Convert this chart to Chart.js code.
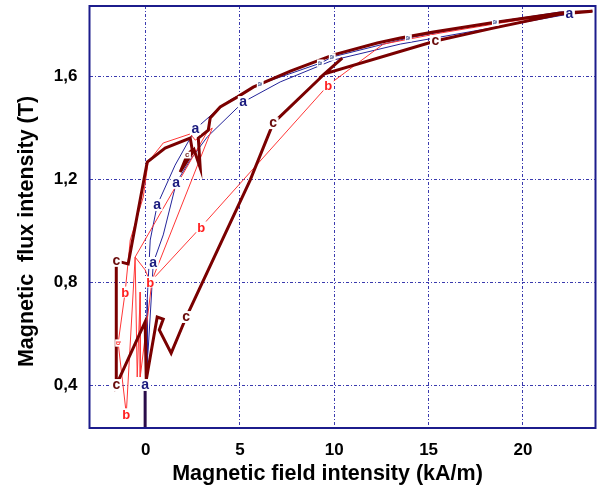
<!DOCTYPE html>
<html>
<head>
<meta charset="utf-8">
<script src="https://cdn.jsdelivr.net/npm/chart.js@4/dist/chart.umd.min.js"></script>
<style>
  html, body { margin: 0; padding: 0; background: #ffffff; }
  #wrap { width: 605px; height: 488px; }
</style>
</head>
<body>
<div id="wrap"><canvas id="chart" width="605" height="488"></canvas></div>
<script>
// Magnetization paths B(H) for three specimens a, b, c
// H in kA/m, B in T

const aField = [-0.03, -0.03, 0.13, 0.29, 0.40, 0.93, 1.62, 2.36, 3.26, 5.17, 7.13, 9.95, 13.50, 18.28, 22.47, 23.69,
                21.99, 18.54, 13.93, 9.89, 9.26, 6.07, 4.48, 3.53, 2.63, 1.56, 0.61, 0.24, 0.08, 0.08];
const aFlux  = [0.233, 0.400, 0.536, 0.730, 0.874, 0.983, 1.185, 1.274, 1.363, 1.499, 1.577, 1.662, 1.724, 1.786, 1.841, 1.852,
                1.849, 1.810, 1.748, 1.674, 1.650, 1.569, 1.507, 1.452, 1.394, 1.254, 1.099, 0.963, 0.730, 0.420];

const bField = [21.99, 18.81, 15.62, 12.60, 9.68, 2.94, 0.24, -0.03, -0.56, -0.45, -0.29, -0.29, 0.34, 3.53,
                2.63, 2.36, 0.93, 0.13, -0.13, -0.82, -1.09, -1.46, -1.03, -0.56, 3.26];
const bFlux  = [1.841, 1.806, 1.767, 1.724, 1.565, 1.014, 0.800, 0.847, 0.897, 0.431, 0.761, 0.431, 0.808, 1.398,
                1.351, 1.375, 1.340, 1.266, 1.130, 0.963, 0.761, 0.563, 0.288, 0.897, 1.383];

const cField = [23.69, 21.99, 18.28, 15.25, 13.50, 12.28, 9.95, 7.67, 5.70, 4.85, 3.95, 3.42, 3.32, 2.79, 2.89, 2.57,
                1.83, 2.20, 2.47, 2.36, 1.03, 0.08, -0.93, -1.56, -1.56, -0.03, 0.03, 0.61, 0.93, 0.72, 1.35, 2.15,
                5.54, 6.76, 9.42, 10.42, 9.47, 15.36, 18.43, 21.99, 23.69];
const cFlux  = [1.852, 1.845, 1.806, 1.771, 1.748, 1.728, 1.682, 1.619, 1.557, 1.518, 1.480, 1.437, 1.390, 1.359, 1.243, 1.313,
                1.227, 1.293, 1.313, 1.359, 1.320, 1.266, 0.870, 0.882, 0.400, 0.645, 0.420, 0.664, 0.656, 0.614, 0.524, 0.664,
                1.196, 1.417, 1.604, 1.670, 1.608, 1.736, 1.786, 1.841, 1.852];

// points of each path that carry the curve letter
const aMarks = [1, 4, 6, 9, 14, 24, 26];
const aSmallMarks = [17, 18, 19, 20, 21];
const bMarks = [4, 5, 6, 20, 22];
const bSmallMarks = [21];
const cMarks = [23, 24, 31, 33, 37];
const cSmallMarks = [17];

const fieldTicks = [0, 5, 10, 15, 20];
const fluxTicks = [0.4, 0.8, 1.2, 1.6];

const toPoints = (xs, ys) => xs.map((x, i) => ({ x: x, y: ys[i] }));

const NAVY = '#24249a';
const RED = '#ff3636';
const DARKRED = '#7a0000';
const FONT = '"Liberation Sans", Arial, sans-serif';

const labelSets = [
  { ds: 2, text: 'a', idx: aMarks, size: 14, color: '#1a1a7e', rot: 0 },
  { ds: 2, text: 'a', idx: aSmallMarks, size: 8, color: '#5a6aa0', rot: Math.PI / 2 },
  { ds: 1, text: 'b', idx: bMarks, size: 13, color: '#ff1f1f', rot: 0 },
  { ds: 1, text: 'b', idx: bSmallMarks, size: 7, color: '#ff4040', rot: Math.PI / 2 },
  { ds: 0, text: 'c', idx: cMarks, size: 14, color: '#6a0c0c', rot: 0 },
  { ds: 0, text: 'c', idx: cSmallMarks, size: 8, color: '#7a3030', rot: 0 }
];

const curveLetters = {
  id: 'curveLetters',
  afterDatasetsDraw(chart) {
    const ctx = chart.ctx;
    ctx.save();
    labelSets.forEach(set => {
      const meta = chart.getDatasetMeta(set.ds);
      set.idx.forEach(i => {
        const pt = meta.data[i];
        if (!pt) return;
        ctx.save();
        ctx.translate(pt.x, pt.y);
        ctx.rotate(set.rot);
        ctx.font = 'bold ' + set.size + 'px ' + FONT;
        const w = ctx.measureText(set.text).width;
        const h = set.size * 0.85;
        ctx.fillStyle = '#ffffff';
        ctx.fillRect(-w / 2 - 1.5, -h / 2, w + 3, h);
        ctx.fillStyle = set.color;
        ctx.textAlign = 'center';
        ctx.textBaseline = 'alphabetic';
        const lift = set.text === 'b' ? 0.36 : 0.27;
        ctx.fillText(set.text, 0, set.size * lift);
        ctx.restore();
      });
    });
    ctx.restore();
  }
};

const frameAndTitles = {
  id: 'frameAndTitles',
  afterDraw(chart) {
    const ctx = chart.ctx;
    const a = chart.chartArea;
    ctx.save();
    ctx.strokeStyle = '#1c1c8c';
    ctx.lineWidth = 2;
    ctx.strokeRect(a.left, a.top, a.right - a.left, a.bottom - a.top);

    ctx.fillStyle = '#000000';
    ctx.textAlign = 'center';
    ctx.textBaseline = 'alphabetic';
    ctx.font = 'bold 21.5px ' + FONT;
    ctx.fillText('Magnetic field intensity (kA/m)', 327.5, 479.5);

    ctx.translate(33, 231.5);
    ctx.rotate(-Math.PI / 2);
    ctx.fillText('Magnetic  flux intensity (T)', 0, 0);
    ctx.restore();
  }
};

const gridStyle = { color: '#3a3aae', lineWidth: 1, drawTicks: false };

new Chart(document.getElementById('chart'), {
  type: 'scatter',
  data: {
    datasets: [
      { label: 'c', data: toPoints(cField, cFlux), showLine: true, borderColor: DARKRED, borderWidth: 3,
        pointRadius: 0, borderJoinStyle: 'miter', tension: 0 },
      { label: 'b', data: toPoints(bField, bFlux), showLine: true, borderColor: RED, borderWidth: 1,
        pointRadius: 0, tension: 0 },
      { label: 'a', data: toPoints(aField, aFlux), showLine: true, borderColor: NAVY, borderWidth: 1,
        pointRadius: 0, tension: 0,
        segment: {
          borderWidth: c => (c.p0DataIndex === 0 ? 3 : 1),
          borderColor: c => (c.p0DataIndex === 0 ? '#2a0c4a' : NAVY)
        } }
    ]
  },
  options: {
    responsive: false,
    animation: false,
    events: [],
    layout: { padding: { left: 0, right: 9.5, top: 6, bottom: 0 } },
    plugins: { legend: { display: false }, tooltip: { enabled: false } },
    scales: {
      x: {
        type: 'linear', min: -2.98, max: 23.85,
        afterBuildTicks: s => { s.ticks = fieldTicks.map(v => ({ value: v })); },
        afterFit: s => { s.height = 60; s.paddingLeft = 0; s.paddingRight = 0; },
        grid: gridStyle,
        border: { display: false, dash: [3, 2, 1, 2] },
        ticks: { color: '#000000', padding: 12, font: { family: FONT, size: 17, weight: 'bold' },
                 maxRotation: 0, callback: v => String(v) }
      },
      y: {
        type: 'linear', min: 0.233, max: 1.872,
        afterBuildTicks: s => { s.ticks = fluxTicks.map(v => ({ value: v })); },
        afterFit: s => { s.width = 89.5; s.paddingTop = 0; s.paddingBottom = 0; },
        grid: gridStyle,
        border: { display: false, dash: [3, 2, 1, 2] },
        ticks: { color: '#000000', padding: 12, font: { family: FONT, size: 17, weight: 'bold' },
                 callback: v => v.toFixed(1).replace('.', ',') }
      }
    }
  },
  plugins: [curveLetters, frameAndTitles]
});
</script>
</body>
</html>
